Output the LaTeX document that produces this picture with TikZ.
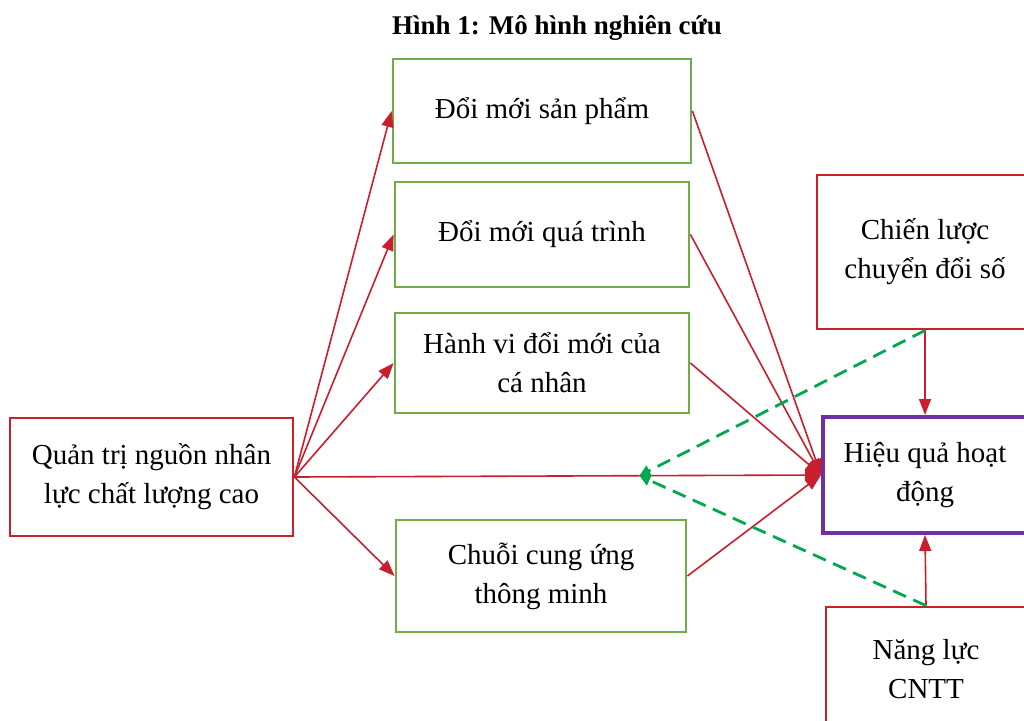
\documentclass[tikz,border=0pt]{standalone}
\usepackage{fontspec}
\setmainfont{Liberation Serif}
\usepackage{tikz}
\usetikzlibrary{arrows.meta,calc}
\definecolor{boxred}{RGB}{204,32,39}
\definecolor{linered}{RGB}{200,30,45}
\definecolor{boxgreen}{RGB}{112,173,71}
\definecolor{boxpurple}{RGB}{112,48,160}
\definecolor{dashgreen}{RGB}{0,168,80}

\begin{document}
\begin{tikzpicture}[x=1pt,y=-1pt,
    box/.style={draw,rectangle,align=center,inner sep=0pt,text=black,
      font=\fontsize{29}{39}\selectfont},
    redbox/.style={box,draw=boxred,line width=2.8pt},
    greenbox/.style={box,draw=boxgreen,line width=2.8pt},
    purplebox/.style={box,draw=boxpurple,line width=4pt},
    link/.style={draw=linered,line width=1.6pt,-{Triangle[length=16pt,width=12pt]}},
    moderate/.style={draw=dashgreen,line width=2.8pt,dash pattern=on 14pt off 8pt,
      -{Triangle[length=11pt,width=11pt]}}]
    \useasboundingbox (0,0) rectangle (1024,720);
    \clip (0,0) rectangle (1024,720);
    \node[font=\fontsize{27}{30}\selectfont\bfseries] (title) at (557,28) {Hình 1: Mô hình nghiên cứu};
    \node[redbox,minimum width=283pt,minimum height=118pt] (qt) at (151.5,477) {Quản trị nguồn nhân\\lực chất lượng cao};
    \node[greenbox,minimum width=298pt,minimum height=104pt] (sp) at (542,111) {Đổi mới sản phẩm};
    \node[greenbox,minimum width=294pt,minimum height=105pt] (qtr) at (542,234.5) {Đổi mới quá trình};
    \node[greenbox,minimum width=294pt,minimum height=100pt] (hv) at (542,363) {Hành vi đổi mới của\\cá nhân};
    \node[greenbox,minimum width=290pt,minimum height=112pt] (cu) at (541,576) {Chuỗi cung ứng\\thông minh};
    \node[redbox,minimum width=216pt,minimum height=154pt] (cl) at (925,252) {Chiến lược\\chuyển đổi số};
    \node[purplebox,minimum width=204pt,minimum height=116pt] (hq) at (925,475) {Hiệu quả hoạt\\động};
    \node[redbox,minimum width=200pt,minimum height=124pt] (nl) at (926,669) {Năng lực\\CNTT};
    \coordinate (m) at ($(qt.east)!0.655!(hq.west)$);
    \draw[link] (qt.east) -- (sp.west);
    \draw[link] (qt.east) -- (qtr.west);
    \draw[link] (qt.east) -- (hv.west);
    \draw[link] (qt.east) -- (cu.west);
    \draw[link] (qt.east) -- (hq.west);
    \draw[link] (sp.east) -- (hq.west);
    \draw[link] (qtr.east) -- (hq.west);
    \draw[link] (hv.east) -- (hq.west);
    \draw[link] (cu.east) -- (hq.west);
    \draw[link] (cl.south) -- (hq.north);
    \draw[link] (nl.north) -- (hq.south);
    \draw[moderate] (cl.south) -- (m);
    \draw[moderate] (nl.north) -- (m);
\end{tikzpicture}
\end{document}
